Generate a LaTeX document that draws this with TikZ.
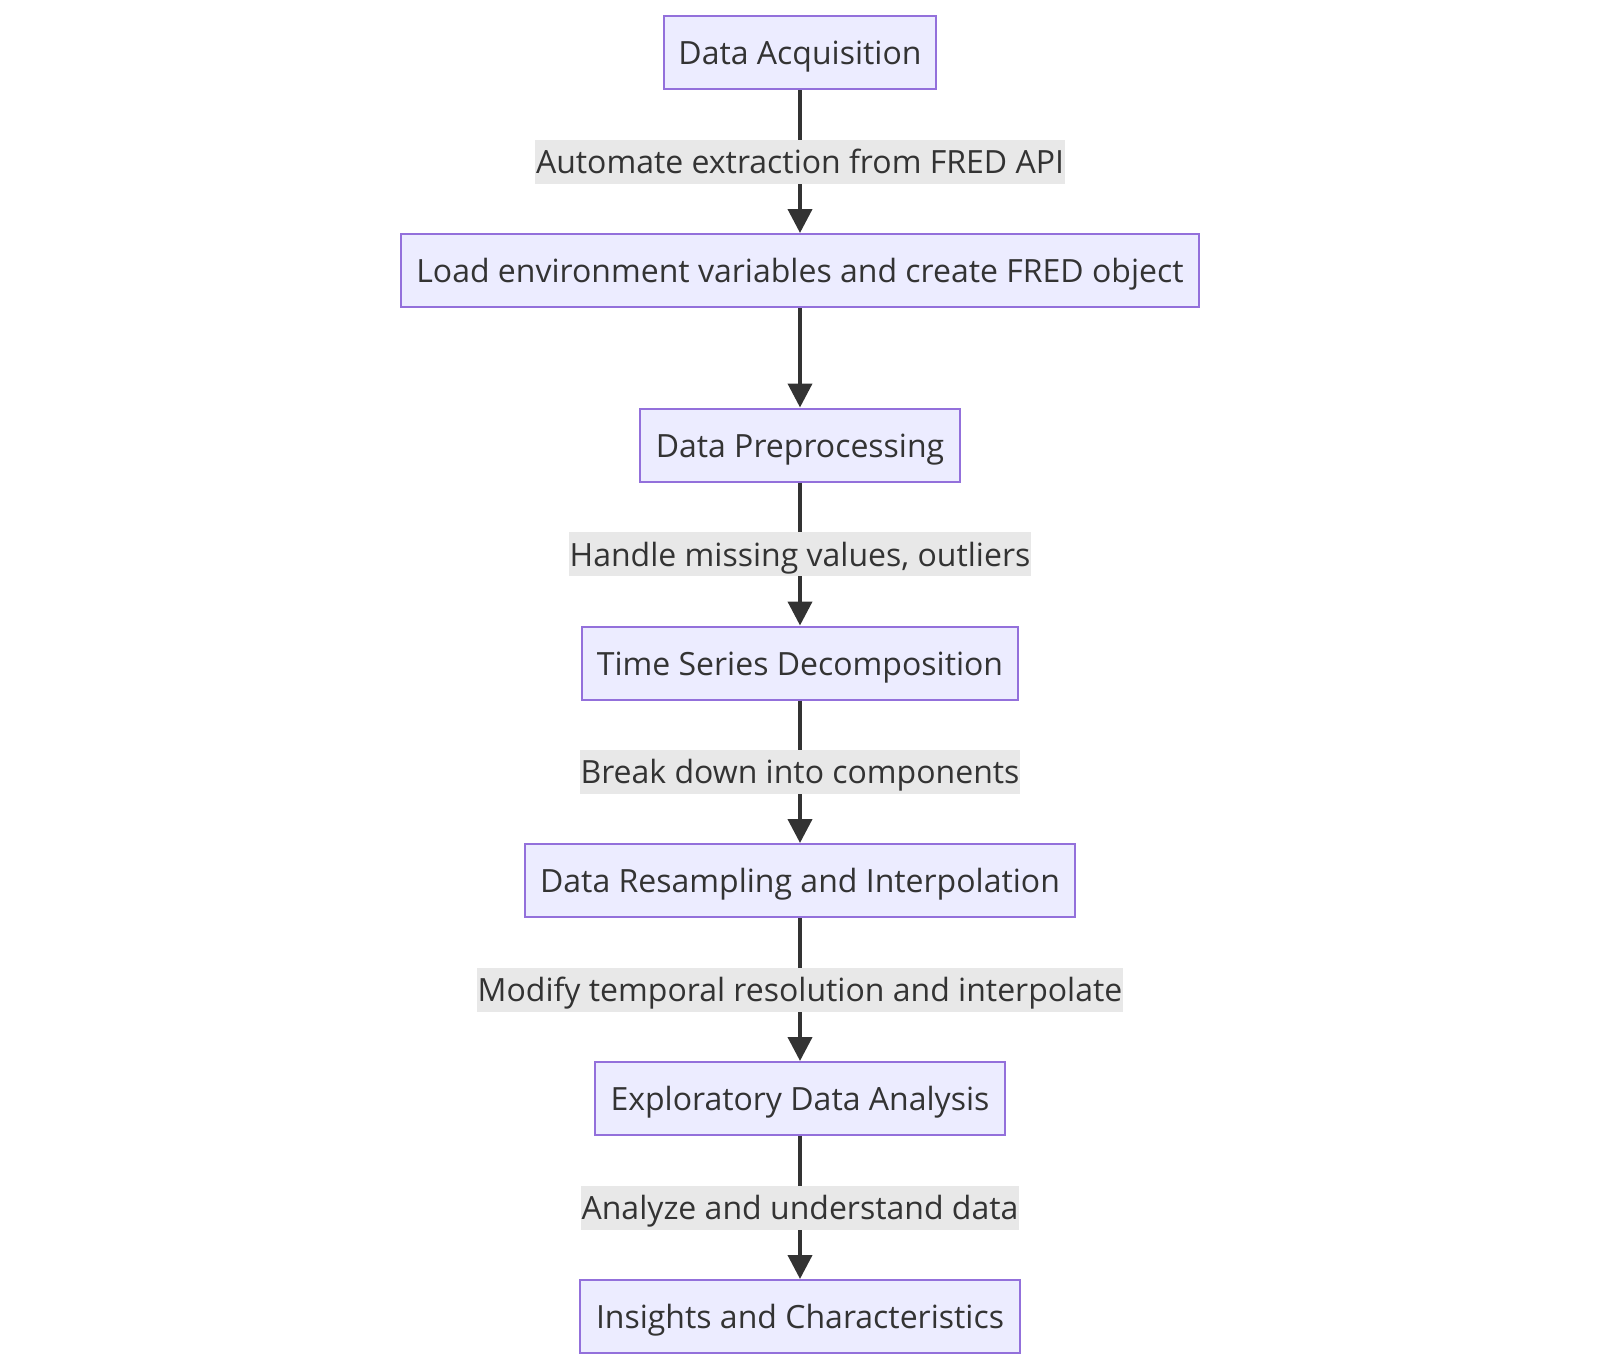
\documentclass[tikz,border=0pt]{standalone}
\usepackage{fontspec}
\setmainfont{Open Sans}
\usetikzlibrary{arrows.meta}
\definecolor{boxfill}{HTML}{ECECFF}
\definecolor{boxdraw}{HTML}{9370DB}
\definecolor{ink}{HTML}{333333}
\definecolor{lblfill}{HTML}{E8E8E8}
\begin{document}
\begin{tikzpicture}[x=1pt,y=-1pt,
  stepbox/.style={draw=boxdraw, fill=boxfill, line width=2pt, minimum height=73pt,
    inner sep=0pt, text=ink, font=\fontsize{32}{38}\selectfont,
    text height=24pt, text depth=0pt},
  lbl/.style={fill=lblfill, text=ink, minimum height=44pt, inner xsep=1pt,
    inner ysep=0pt, font=\fontsize{32}{38}\selectfont,
    text height=24pt, text depth=0pt},
  flow/.style={draw=ink, line width=4pt, -{Triangle[length=24pt,width=24pt]}}]
\useasboundingbox (0,0) rectangle (1600,1370);
\node[stepbox, minimum width=272pt] (acq)  at (800,53)    {Data Acquisition};
\node[stepbox, minimum width=798pt] (load) at (800,270.5) {Load environment variables and create FRED object};
\node[stepbox, minimum width=320pt] (prep) at (800,445)   {Data Preprocessing};
\node[stepbox, minimum width=436pt] (tsd)  at (800,663)   {Time Series Decomposition};
\node[stepbox, minimum width=550pt] (res)  at (800,880.5) {Data Resampling and Interpolation};
\node[stepbox, minimum width=410pt] (eda)  at (800,1098.5){Exploratory Data Analysis};
\node[stepbox, minimum width=440pt] (ins)  at (800,1316.5){Insights and Characteristics};
\draw[flow] (acq) -- node[lbl] (l1) {Automate extraction from FRED API} (load);
\draw[flow] (load) -- (prep);
\draw[flow] (prep) -- node[lbl] (l2) {Handle missing values, outliers} (tsd);
\draw[flow] (tsd) -- node[lbl] (l3) {Break down into components} (res);
\draw[flow] (res) -- node[lbl] (l4) {Modify temporal resolution and interpolate} (eda);
\draw[flow] (eda) -- node[lbl] (l5) {Analyze and understand data} (ins);
\end{tikzpicture}
\end{document}
